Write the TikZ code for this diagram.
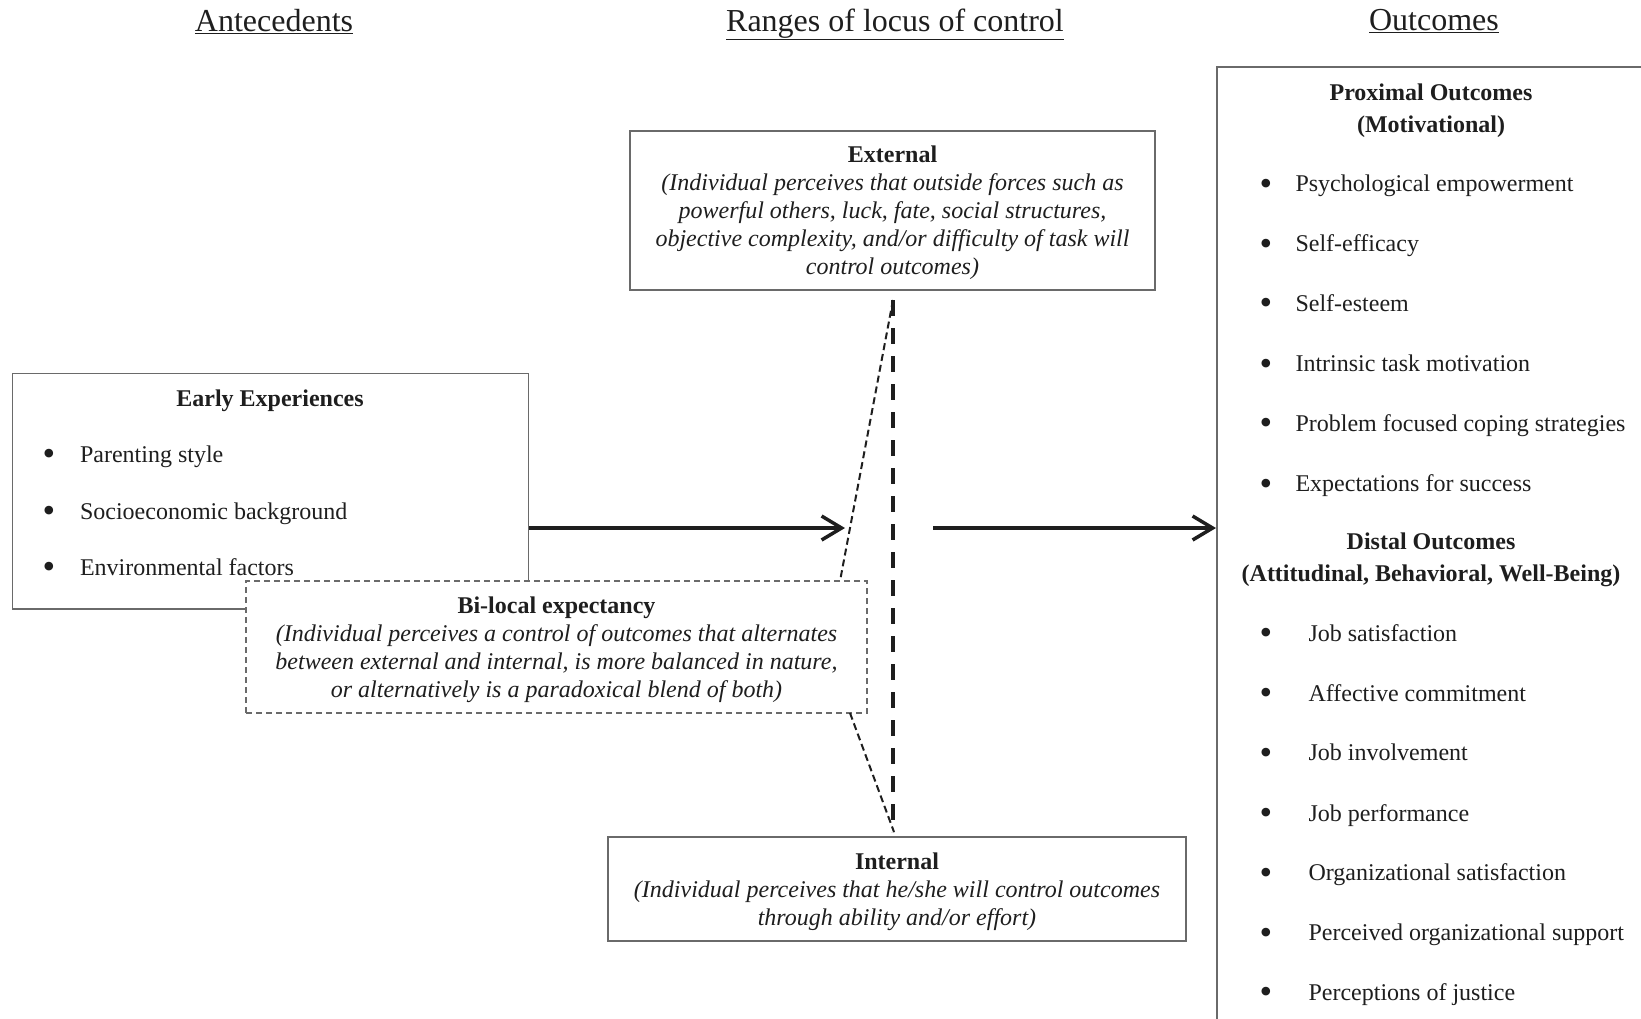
\documentclass[tikz,border=0pt]{standalone}
\usepackage{fontspec}
\setmainfont{Liberation Serif}
\usetikzlibrary{arrows.meta}
\definecolor{ink}{HTML}{1E1E1E}
\definecolor{frame}{HTML}{6A6A6A}
% a slightly heavier list bullet
\newcommand{\listdot}{\raisebox{-3.5pt}{\fontsize{36}{36}\selectfont\textbullet}}
% strut that lifts the first line of a boxed block
\newcommand{\toprule}{\rule{0pt}{21.5pt}}

\begin{document}
\begin{tikzpicture}[x=1pt,y=-1pt,
  every node/.style={text=ink, font=\fontsize{24}{28}\selectfont},
  box/.style={draw=frame, line width=1.8pt, inner sep=0pt},
  dbox/.style={draw=frame, line width=1.5pt, inner sep=0pt, fill=white,
               dash pattern=on 6pt off 4pt},
  title/.style={font=\fontsize{32}{36}\selectfont, anchor=base},
  head/.style={font=\fontsize{24}{31.5}\selectfont\bfseries, align=center},
  item/.style={anchor=base west},
  dot/.style={anchor=base},
  flow/.style={line width=3.5pt, draw=ink, -{Straight Barb[length=20pt,width=24pt]}},
  axis/.style={line width=4pt, draw=ink, dash pattern=on 16pt off 12pt},
  guide/.style={line width=2pt, draw=ink, dash pattern=on 7pt off 4pt},
]
\useasboundingbox (0,0) rectangle (1641,1018);
\clip (0,0) rectangle (1641,1018);

% column titles
\node[title] (tA) at (274,31) {\underline{Antecedents}};
\node[title] (tR) at (895,31) {\underline{Ranges of locus of control}};
\node[title] (tO) at (1434,30) {\underline{Outcomes}};

% antecedents
\node[box, minimum width=516pt, minimum height=235.4pt, anchor=north west] (early) at (11.5,372.6) {};
\node[font=\fontsize{24}{28}\selectfont\bfseries, anchor=base] (eh) at (270,406) {Early Experiences};
\node[dot] (eb1) at (49,462) {\listdot};
\node[item] (ei1) at (76.5,462) {Parenting style};
\node[dot] (eb2) at (49,519) {\listdot};
\node[item] (ei2) at (76.5,519) {Socioeconomic background};
\node[dot] (eb3) at (49,575) {\listdot};
\node[item] (ei3) at (76.5,575) {Environmental factors};

% ranges of locus of control
\node[box, minimum width=525pt, minimum height=159pt, align=center] (ext) at (892.5,210.5)
  {\toprule\textbf{External}\\
   \textit{(Individual perceives that outside forces such as}\\
   \textit{powerful others, luck, fate, social structures,}\\
   \textit{objective complexity, and/or difficulty of task will}\\
   \textit{control outcomes)}};

\node[box, minimum width=578pt, minimum height=104pt, align=center] (int) at (897,889)
  {\toprule\textbf{Internal}\\
   \textit{(Individual perceives that he/she will control outcomes}\\
   \textit{through ability and/or effort)}};

\coordinate (atop) at (893,300);
\coordinate (abot) at (893,832);
\draw[axis] (atop) -- (abot);

\node[dbox, minimum width=621pt, minimum height=132pt, align=center] (bil) at (556.5,647)
  {\toprule\textbf{Bi-local expectancy}\\
   \textit{(Individual perceives a control of outcomes that alternates}\\
   \textit{between external and internal, is more balanced in nature,}\\
   \textit{or alternatively is a paradoxical blend of both)}};

\coordinate (gtop) at (840,581);
\coordinate (gbot) at (850,713);
\coordinate (gend) at (894,832);
\draw[guide] (atop) -- (gtop);
\draw[guide] (gbot) -- (gend);

% outcomes
\node[box, minimum width=500pt, minimum height=1000pt, anchor=north west] (out) at (1216,66) {};
\node[head] (ph) at (1431,110.5) {Proximal Outcomes\\(Motivational)};
\foreach \t/\y [count=\i] in {Psychological empowerment/191.5, Self-efficacy/251.5,
    Self-esteem/311, Intrinsic task motivation/371.5,
    Problem focused coping strategies/431, Expectations for success/491.5}{
  \node[dot] (pb\i) at (1266,\y) {\listdot};
  \node[item] (pi\i) at (1292,\y) {\t};
}
\node[head] (dh) at (1431,560) {Distal Outcomes\\(Attitudinal, Behavioral, Well-Being)};
\foreach \t/\y [count=\i] in {Job satisfaction/641, Affective commitment/701,
    Job involvement/760.5, Job performance/821, Organizational satisfaction/880.5,
    Perceived organizational support/940.5, Perceptions of justice/1000}{
  \node[dot] (db\i) at (1266,\y) {\listdot};
  \node[item] (di\i) at (1305,\y) {\t};
}

% flow arrows
\coordinate (a1) at (845,528);
\coordinate (a2) at (933,528);
\draw[flow] (early.east |- a1) -- (a1);
\draw[flow] (a2) -- (a2 -| out.west);
\end{tikzpicture}
\end{document}
